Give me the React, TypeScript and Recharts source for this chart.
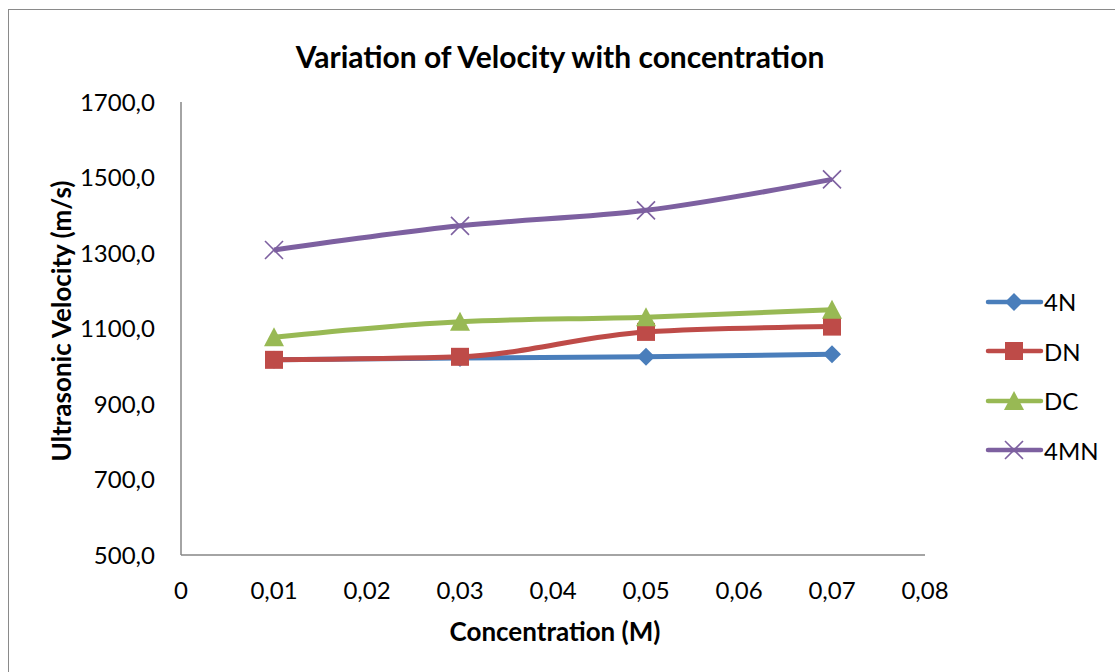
import React from 'react';
import { LineChart, Line, XAxis, YAxis } from 'recharts';

const concentrations = [0.01, 0.03, 0.05, 0.07];
const v4N = [1017, 1022, 1025, 1032];
const vDN = [1017, 1025, 1091, 1105];
const vDC = [1077, 1118, 1130, 1150];
const v4MN = [1308, 1372, 1413, 1495];

const xTicks = [0, 0.01, 0.02, 0.03, 0.04, 0.05, 0.06, 0.07, 0.08];
const yTicks = [500, 700, 900, 1100, 1300, 1500, 1700];

const SERIES = [
  { key: '4N', color: '#4A7EBB', shape: 'diamond' },
  { key: 'DN', color: '#BE4B48', shape: 'square' },
  { key: 'DC', color: '#98B954', shape: 'triangle' },
  { key: '4MN', color: '#7D60A0', shape: 'cross' },
];

const data = concentrations.map((c, i) => ({
  x: c,
  '4N': v4N[i],
  DN: vDN[i],
  DC: vDC[i],
  '4MN': v4MN[i],
}));

const FONT = 'Lato, "Open Sans", sans-serif';

function Marker({ cx, cy, shape, color }: any) {
  if (cx == null || cy == null) return null;
  if (shape === 'diamond') {
    const r = 9;
    return <polygon points={`${cx},${cy - r} ${cx + r},${cy} ${cx},${cy + r} ${cx - r},${cy}`} fill={color} />;
  }
  if (shape === 'square') {
    const r = 9;
    return <rect x={cx - r} y={cy - r} width={r * 2} height={r * 2} fill={color} />;
  }
  if (shape === 'triangle') {
    const r = 10;
    return <polygon points={`${cx},${cy - r} ${cx + r},${cy + r - 1} ${cx - r},${cy + r - 1}`} fill={color} />;
  }
  const r = 9;
  return (
    <g stroke={color} strokeWidth={1.6}>
      <line x1={cx - r} y1={cy - r} x2={cx + r} y2={cy + r} />
      <line x1={cx - r} y1={cy + r} x2={cx + r} y2={cy - r} />
    </g>
  );
}

function LegendBox() {
  return (
    <div style={{ fontFamily: FONT, fontSize: 24 }}>
      {SERIES.map((s) => (
        <div key={s.key} style={{ display: 'flex', alignItems: 'center', height: 49.5 }}>
          <svg width={60} height={26}>
            <line x1={4} y1={13} x2={57} y2={13} stroke={s.color} strokeWidth={4.5} strokeLinecap="round" />
            <Marker cx={30} cy={13} shape={s.shape} color={s.color} />
          </svg>
          <span style={{ color: '#000', marginLeft: 0 }}>{s.key}</span>
        </div>
      ))}
    </div>
  );
}

export default function App() {
  const fmt = (v: number) => (v === 0 ? '0' : String(v).replace('.', ','));
  return (
    <div style={{ position: 'absolute', left: 0, top: 0, width: 1115, height: 672, background: '#fff', overflow: 'hidden' }}>
      <div
        style={{
          position: 'absolute',
          left: 8,
          top: 9,
          width: 1120,
          height: 680,
          border: '1px solid #8a8a8a',
        }}
      />
      <div style={{ position: 'absolute', left: 0, top: 0 }}>
        <LineChart width={1115} height={672} data={data} margin={{ top: 102, right: 190, bottom: 27, left: 0 }}>
          <XAxis
            dataKey="x"
            type="number"
            domain={[0, 0.08]}
            ticks={xTicks}
            tickFormatter={fmt}
            height={90}
            tickSize={0}
            tickMargin={27}
            stroke="#868686"
            strokeWidth={1.5}
            tick={{ fill: '#000', fontFamily: FONT, fontSize: 24 }}
            interval={0}
          />
          <YAxis
            type="number"
            domain={[500, 1700]}
            ticks={yTicks}
            tickFormatter={(v: number) => v.toFixed(1).replace('.', ',')}
            width={181}
            tickSize={0}
            tickMargin={26}
            stroke="#868686"
            strokeWidth={1.5}
            tick={{ fill: '#000', fontFamily: FONT, fontSize: 24 }}
            interval={0}
          />
          {SERIES.map((s) => (
            <Line
              key={s.key}
              dataKey={s.key}
              type="monotone"
              stroke={s.color}
              strokeWidth={5}
              dot={(p: any) => <Marker key={`${s.key}-${p.index}`} cx={p.cx} cy={p.cy} shape={s.shape} color={s.color} />}
              activeDot={false}
              isAnimationActive={false}
            />
          ))}
        </LineChart>
      </div>
      <div
        style={{
          position: 'absolute',
          left: 0,
          width: 1120,
          top: 38,
          textAlign: 'center',
          fontFamily: FONT,
          fontWeight: 'bold',
          fontSize: 30,
          color: '#000',
        }}
      >
        Variation of Velocity with concentration
      </div>
      <div
        style={{
          position: 'absolute',
          left: 555 - 200,
          width: 400,
          top: 615,
          textAlign: 'center',
          fontFamily: FONT,
          fontWeight: 'bold',
          fontSize: 26,
          color: '#000',
        }}
      >
        Concentration (M)
      </div>
      <div
        style={{
          position: 'absolute',
          left: 61 - 200,
          top: 322 - 17,
          width: 400,
          textAlign: 'center',
          transform: 'rotate(-90deg)',
          fontFamily: FONT,
          fontWeight: 'bold',
          fontSize: 26,
          color: '#000',
        }}
      >
        Ultrasonic Velocity (m/s)
      </div>
      <div style={{ position: 'absolute', left: 984, top: 277 }}>
        <LegendBox />
      </div>
    </div>
  );
}
